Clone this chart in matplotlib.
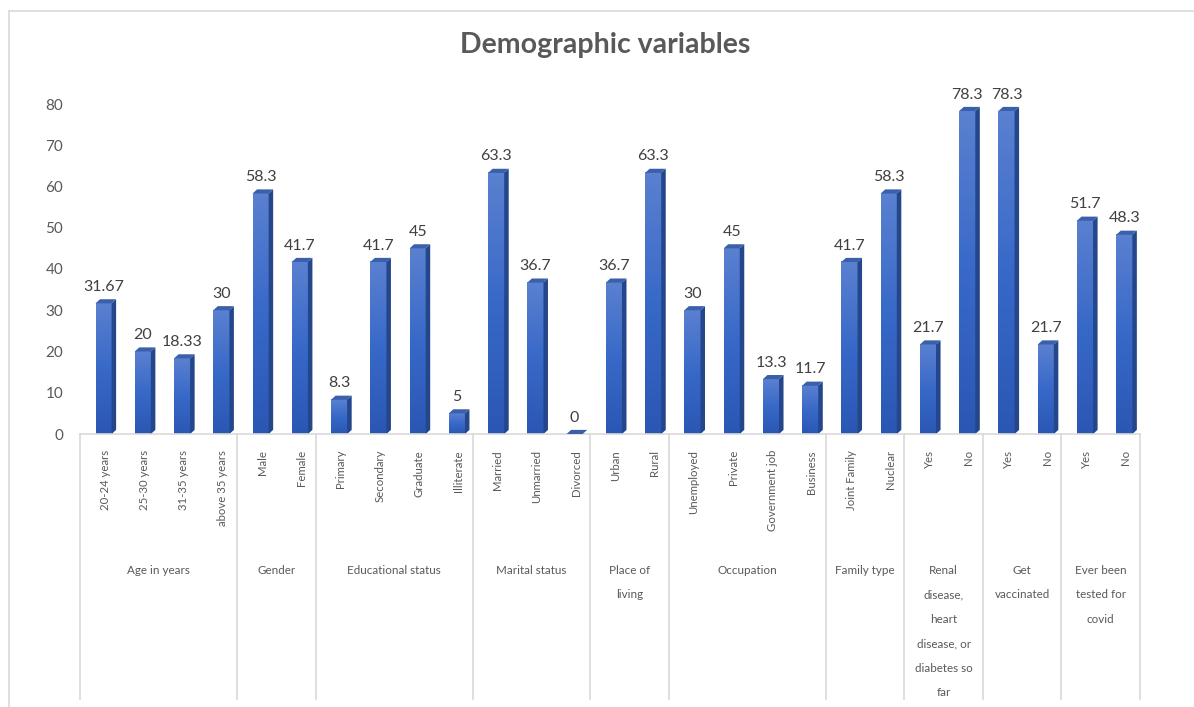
import matplotlib.pyplot as plt
from matplotlib.patches import Polygon
from matplotlib.lines import Line2D
from matplotlib.colors import LinearSegmentedColormap
from matplotlib.transforms import blended_transform_factory
import numpy as np

# Chart data
group_names = ["Age in years", "Gender", "Educational status", "Marital status",
               "Place of\nliving", "Occupation", "Family type",
               "Renal\ndisease,\nheart\ndisease, or\ndiabetes so\nfar",
               "Get\nvaccinated", "Ever been\ntested for\ncovid"]
group_items = [
    ["20-24 years", "25-30 years", "31-35 years", "above 35 years"],
    ["Male", "Female"],
    ["Primary", "Secondary", "Graduate", "Illiterate"],
    ["Married", "Unmarried", "Divorced"],
    ["Urban", "Rural"],
    ["Unemployed", "Private", "Government job", "Business"],
    ["Joint Family", "Nuclear"],
    ["Yes", "No"],
    ["Yes", "No"],
    ["Yes", "No"],
]
group_values = [
    [31.67, 20, 18.33, 30],
    [58.3, 41.7],
    [8.3, 41.7, 45, 5],
    [63.3, 36.7, 0],
    [36.7, 63.3],
    [30, 45, 13.3, 11.7],
    [41.7, 58.3],
    [21.7, 78.3],
    [78.3, 21.7],
    [51.7, 48.3],
]
y_ticks = [0, 10, 20, 30, 40, 50, 60, 70, 80]

plt.rcParams['font.family'] = ['Lato', 'DejaVu Sans']
W, H = 1194, 707
grey = '#595959'
line_grey = '#d9d9d9'

fig = plt.figure(figsize=(W / 100, H / 100), dpi=100)
ax = fig.add_axes([80 / W, (H - 434) / H, 1060 / W, (434 - 80) / H])
blend = blended_transform_factory(ax.transData, fig.transFigure)

front_cmap = LinearSegmentedColormap.from_list('front', ['#2b57b4', '#3869c8', '#5a80d0'])
grad = np.linspace(0, 1, 64).reshape(-1, 1)

w, off = 0.41, 0.10      # front face width / shift inside slot
dx, dy = 0.115, 1.0      # depth of the fake 3d

items = [it for g in group_items for it in g]
values = [v for g in group_values for v in g]

for i, (lab, v) in enumerate(zip(items, values)):
    x0 = i + 0.5 + off - w / 2
    if v > 0:
        ax.imshow(grad, extent=[x0, x0 + w, 0, v], origin='lower', aspect='auto',
                  cmap=front_cmap, zorder=2)
    ax.add_patch(Polygon([(x0 + w, 0), (x0 + w + dx, dy), (x0 + w + dx, v + dy), (x0 + w, v)],
                         closed=True, facecolor='#24468a', edgecolor='none', zorder=2))
    ax.add_patch(Polygon([(x0, v), (x0 + dx, v + dy), (x0 + w + dx, v + dy), (x0 + w, v)],
                         closed=True, facecolor='#3a60ab', edgecolor='none', zorder=3))
    ax.text(x0 + w / 2, v + dy + 1.3, f"{v:g}", ha='center', va='bottom',
            fontsize=11.5, color='#404040')
    # category label below the axis
    ax.text(i + 0.5 + 0.14, (H - 450) / H, lab, rotation=90, ha='center', va='top',
            fontsize=8.2, color=grey, transform=blend)

# group separators and group names
bounds = np.cumsum([0] + [len(g) for g in group_items])
for b in bounds:
    ax.add_line(Line2D([b, b], [(H - 434) / H, (H - 699) / H], transform=blend,
                       color=line_grey, lw=1.2, clip_on=False))
for name, a, b in zip(group_names, bounds[:-1], bounds[1:]):
    ax.text((a + b) / 2, (H - 565) / H, name, ha='center', va='top', linespacing=2.5,
            fontsize=8.4, color=grey, transform=blend)

ax.set_xlim(0, len(items))
ax.set_ylim(0, (434 - 80) / 4.125)
ax.set_yticks(y_ticks)
ax.set_xticks([])
ax.tick_params(axis='y', length=0, pad=12, labelsize=11, labelcolor=grey)
for s in ['top', 'right', 'left']:
    ax.spines[s].set_visible(False)
ax.spines['bottom'].set_color(line_grey)
ax.spines['bottom'].set_linewidth(1.2)

fig.text(605 / W, 1 - 45 / H, "Demographic variables", ha='center', va='center',
         fontsize=20.5, fontweight='bold', color=grey)

# chart border (left and top edges visible)
fig.add_artist(Line2D([9 / W, 9 / W], [0, 1 - 11 / H], color=line_grey, lw=1.2))
fig.add_artist(Line2D([9 / W, 1], [1 - 11 / H, 1 - 11 / H], color=line_grey, lw=1.2))

fig.savefig('out.png', dpi=100)
